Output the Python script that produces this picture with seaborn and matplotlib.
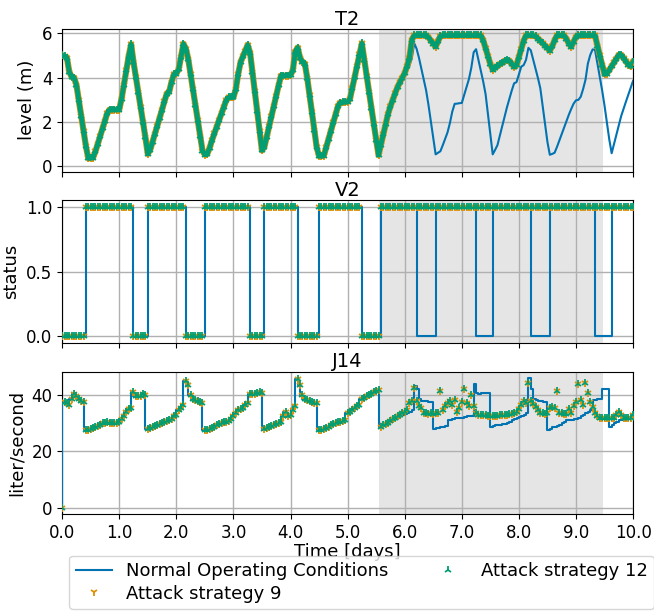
import numpy as np
import pandas as pd
import matplotlib
matplotlib.use('Agg')
import matplotlib.pyplot as plt
import seaborn as sns

plt.rcParams['font.family'] = ['DejaVu Sans']
plt.rcParams['font.size'] = 13

# hourly samples over 10 days
hours = np.arange(241)
attack_start = 133          # first hour where the attack series are given separately
attack_window = (5.55, 9.48)  # shaded period, days

# T2 tank level (m), normal operation
t2_normal = [
    5.0, 4.95, 4.9, 4.26, 4.03, 4.0, 3.67, 2.97, 2.28, 1.59, 0.9, 0.35,
    0.36, 0.38, 0.66, 1.01, 1.35, 1.7, 2.05, 2.4, 2.55, 2.55, 2.55, 2.55,
    2.55, 3.05, 3.68, 4.33, 4.98, 5.5, 4.7, 4.02, 3.33, 2.65, 1.98, 1.3,
    0.55, 0.73, 1.09, 1.46, 1.82, 2.18, 2.55, 2.92, 3.27, 3.36, 3.8, 4.15,
    4.18, 4.37, 4.94, 5.52, 5.31, 4.84, 4.15, 3.46, 2.77, 2.08, 1.38, 0.7,
    0.52, 0.55, 0.82, 1.17, 1.48, 1.78, 2.08, 2.39, 2.69, 2.98, 3.1, 3.1,
    3.1, 3.47, 4.15, 4.69, 4.95, 5.21, 5.47, 5.12, 4.25, 3.37, 2.48, 1.6,
    0.71, 0.86, 1.32, 1.79, 2.25, 2.72, 3.18, 3.65, 4.08, 4.08, 4.09, 4.09,
    4.1, 4.34, 5.17, 5.35, 4.9, 4.7, 4.63, 4.0, 3.2, 2.43, 1.64, 0.85,
    0.45, 0.45, 0.47, 0.85, 1.23, 1.6, 1.97, 2.35, 2.72, 2.87, 2.88, 2.89,
    2.9, 3.04, 3.54, 4.04, 4.54, 5.04, 5.54, 4.81, 4.09, 3.36, 2.64, 1.91,
    1.2, 0.5, 0.94, 1.37, 1.8, 2.22, 2.57, 2.88, 3.19, 3.5, 3.74, 3.97,
    4.19, 4.36, 4.53, 4.88, 5.55, 5.3, 4.89, 4.4, 3.91, 3.42, 2.76, 2.01,
    1.25, 0.53, 0.6, 0.67, 0.94, 1.23, 1.52, 1.94, 2.46, 2.81, 2.82, 2.84,
    2.85, 3.21, 3.57, 3.93, 4.44, 5.14, 5.28, 4.79, 4.3, 3.82, 3.25, 2.34,
    1.41, 0.53, 0.73, 0.95, 1.38, 1.8, 2.23, 2.66, 3.03, 3.41, 3.74, 3.79,
    4.14, 4.49, 4.56, 4.8, 5.34, 5.23, 4.81, 4.4, 3.98, 3.52, 2.7, 1.9,
    1.09, 0.51, 0.55, 0.6, 0.86, 1.15, 1.45, 1.74, 2.03, 2.32, 2.58, 2.82,
    2.97, 2.99, 3.13, 3.48, 3.9, 4.63, 5.02, 5.27, 5.25, 4.64, 4.03, 3.42,
    2.73, 1.96, 1.2, 0.58, 1.0, 1.42, 1.84, 2.26, 2.59, 2.91, 3.22, 3.54,
    3.85,
]
# T2 under attack, from attack_start on (strategies 9 and 12 coincide)
t2_attack9_tail = [
    0.5, 0.97, 1.43, 1.89, 2.35, 2.7, 3.0, 3.29, 3.57, 3.79, 3.99,
    4.2, 4.51, 4.9, 5.7, 5.9, 5.9, 5.9, 5.9, 5.9, 5.9, 5.81, 5.67,
    5.53, 5.4, 5.64, 5.87, 5.9, 5.9, 5.9, 5.9, 5.9, 5.9, 5.9, 5.9,
    5.9, 5.9, 5.9, 5.9, 5.9, 5.9, 5.9, 5.9, 5.9, 5.68, 5.32, 4.96,
    4.61, 4.36, 4.44, 4.52, 4.6, 4.67, 4.75, 4.78, 4.76, 4.62, 4.48, 4.56,
    4.93, 5.3, 5.66, 5.9, 5.9, 5.9, 5.9, 5.87, 5.76, 5.65, 5.55, 5.44,
    5.33, 5.22, 5.41, 5.68, 5.9, 5.9, 5.9, 5.9, 5.74, 5.53, 5.39, 5.61,
    5.84, 5.9, 5.9, 5.9, 5.9, 5.9, 5.9, 5.9, 5.9, 5.44, 5.0, 4.58,
    4.15, 4.18, 4.34, 4.51, 4.68, 4.85, 5.02, 5.02, 4.88, 4.73, 4.58, 4.5,
    4.7,
]
t2_attack12_tail = list(t2_attack9_tail)

# V2 valve status, one row per day
v2_normal = [
    0, 0, 0, 0, 0, 0, 0, 0, 0, 0, 1, 1, 1, 1, 1, 1, 1, 1, 1, 1, 1, 1, 1, 1,
    1, 1, 1, 1, 1, 1, 0, 0, 0, 0, 0, 0, 1, 1, 1, 1, 1, 1, 1, 1, 1, 1, 1, 1,
    1, 1, 1, 1, 0, 0, 0, 0, 0, 0, 0, 0, 1, 1, 1, 1, 1, 1, 1, 1, 1, 1, 1, 1,
    1, 1, 1, 1, 1, 1, 1, 0, 0, 0, 0, 0, 0, 1, 1, 1, 1, 1, 1, 1, 1, 1, 1, 1,
    1, 1, 1, 0, 0, 0, 0, 0, 0, 0, 0, 0, 1, 1, 1, 1, 1, 1, 1, 1, 1, 1, 1, 1,
    1, 1, 1, 1, 1, 1, 0, 0, 0, 0, 0, 0, 0, 0, 1, 1, 1, 1, 1, 1, 1, 1, 1, 1,
    1, 1, 1, 1, 1, 0, 0, 0, 0, 0, 0, 0, 0, 1, 1, 1, 1, 1, 1, 1, 1, 1, 1, 1,
    1, 1, 1, 1, 1, 1, 0, 0, 0, 0, 0, 0, 0, 1, 1, 1, 1, 1, 1, 1, 1, 1, 1, 1,
    1, 1, 1, 1, 1, 0, 0, 0, 0, 0, 0, 0, 0, 1, 1, 1, 1, 1, 1, 1, 1, 1, 1, 1,
    1, 1, 1, 1, 1, 1, 1, 1, 0, 0, 0, 0, 0, 0, 0, 1, 1, 1, 1, 1, 1, 1, 1, 1,
    1,
]
v2_attack9_tail = [0] + [1] * 107
v2_attack12_tail = list(v2_attack9_tail)

# J14 flow (liter/second)
j14_normal = [
    0, 37.5, 37.0, 36.3, 38.5, 40.5, 39.5, 38.5, 38.0, 37.5, 27.5, 27.6,
    27.8, 28.2, 28.6, 29.0, 29.4, 29.9, 30.2, 30.4, 30.2, 30.0, 30.0, 30.0,
    30.5, 31.5, 32.5, 33.8, 35.0, 35.5, 41.0, 39.8, 39.5, 39.8, 40.5, 40.0,
    28.0, 28.2, 28.5, 28.9, 29.3, 29.8, 30.2, 30.5, 30.9, 31.0, 31.5, 32.5,
    33.0, 34.5, 35.5, 36.5, 45.0, 43.5, 40.0, 38.5, 38.2, 37.8, 37.5, 37.2,
    27.5, 27.7, 28.0, 28.4, 28.8, 29.2, 29.6, 30.0, 30.3, 30.5, 30.8, 31.5,
    32.5, 33.5, 34.5, 35.0, 35.5, 36.5, 37.0, 40.5, 40.2, 40.5, 40.8, 41.0,
    40.6, 28.0, 28.3, 28.6, 29.0, 29.4, 29.8, 30.2, 30.5, 32.5, 34.0, 32.5,
    33.0, 34.5, 36.0, 45.5, 43.5, 40.0, 38.5, 38.2, 38.0, 37.6, 37.3, 37.0,
    27.5, 27.7, 28.0, 28.4, 28.8, 29.2, 29.6, 30.0, 30.3, 30.5, 30.6, 31.0,
    33.5, 34.0, 34.7, 35.2, 36.0, 36.5, 38.5, 39.0, 39.5, 40.0, 40.5, 41.0,
    41.5, 41.9, 28.7, 29.0, 29.4, 29.8, 30.2, 30.6, 31.0, 31.5, 32.0, 32.5,
    33.0, 33.3, 33.6, 34.0, 34.5, 43.0, 42.0, 38.5, 38.0, 37.8, 37.7, 37.6,
    37.5, 28.0, 28.2, 28.4, 28.6, 28.8, 29.0, 31.0, 31.2, 31.5, 31.7, 31.7,
    31.8, 32.0, 32.3, 32.5, 32.5, 32.6, 43.7, 40.7, 40.5, 40.6, 40.7, 40.7,
    40.7, 28.7, 29.0, 29.3, 29.5, 29.5, 29.6, 29.8, 30.0, 30.5, 31.0, 31.5,
    32.0, 32.3, 32.5, 33.0, 33.5, 46.0, 42.0, 38.5, 38.3, 38.0, 37.8, 37.6,
    37.5, 27.5, 28.0, 28.5, 28.7, 29.0, 29.5, 30.0, 30.5, 31.0, 31.1, 31.2,
    31.3, 31.5, 32.0, 32.5, 33.0, 33.5, 34.0, 34.5, 38.3, 38.3, 38.5, 38.5,
    42.0, 42.0, 42.0, 28.7, 29.5, 30.0, 30.5, 31.0, 31.1, 31.2, 31.3, 31.5,
    31.7,
]
j14_attack9_tail = [
    41.9, 28.7, 29.2, 29.7, 30.2, 30.8, 31.4, 32.0, 32.6, 33.0, 33.5,
    33.8, 34.5, 37.0, 38.0, 42.5, 38.0, 36.0, 35.5, 33.5, 33.5, 33.3, 33.5,
    33.4, 33.5, 33.6, 41.3, 34.5, 36.0, 37.0, 38.0, 36.5, 38.3, 34.0, 35.5,
    37.5, 42.0, 37.1, 36.0, 40.0, 36.0, 33.5, 33.0, 32.9, 32.8, 32.8, 32.7,
    32.7, 32.6, 32.6, 32.7, 32.8, 32.9, 33.0, 33.0, 33.2, 33.4, 33.6, 34.0,
    35.0, 36.5, 38.0, 37.0, 44.3, 37.7, 36.8, 35.9, 34.5, 33.5, 33.5, 33.4,
    33.5, 35.5, 35.8, 35.5, 41.3, 33.6, 33.5, 33.4, 33.3, 35.0, 33.5, 36.0,
    37.5, 43.7, 38.3, 36.5, 44.3, 40.7, 37.5, 35.9, 33.5, 32.5, 32.0, 31.8,
    31.7, 31.7, 31.7, 31.8, 32.0, 33.0, 34.0, 33.0, 32.0, 31.8, 31.8, 32.0,
    33.0,
]
j14_attack12_tail = list(j14_attack9_tail)

# (title, ylabel, normal, attack 9, attack 12, drawstyle, thick attack band)
panels = [
    ('T2', 'level (m)', t2_normal, t2_attack9_tail, t2_attack12_tail, None, True),
    ('V2', 'status', v2_normal, v2_attack9_tail, v2_attack12_tail, 'steps-post', False),
    ('J14', 'liter/second', j14_normal, j14_attack9_tail, j14_attack12_tail, 'steps-pre', False),
]

pal = sns.color_palette('colorblind')
c_norm, c_a9, c_a12 = pal[0], pal[1], pal[2]
days = hours / 24

fig, axes = plt.subplots(3, 1, figsize=(6.54, 6.13), dpi=100, sharex=True)
fig.subplots_adjust(left=0.095, right=0.968, top=0.953, bottom=0.161, hspace=0.2)

for ax, (name, ylab, normal, a9_tail, a12_tail, ds, band) in zip(axes, panels):
    a9 = list(normal[:attack_start]) + list(a9_tail)
    a12 = list(normal[:attack_start]) + list(a12_tail)
    df = pd.DataFrame({'days': days, 'normal': normal, 'a9': a9, 'a12': a12})

    ax.axvspan(*attack_window, color='0.5', alpha=0.2, lw=0, zorder=0)
    kw = {} if ds is None else {'drawstyle': ds}
    sns.lineplot(data=df, x='days', y='normal', ax=ax, color=c_norm, lw=1.5,
                 label='Normal Operating Conditions', errorbar=None, zorder=3, **kw)
    if band:
        # dense sampling in the source makes the markers merge into a band
        sns.lineplot(data=df, x='days', y='a9', ax=ax, color=c_a9, lw=4.5,
                     errorbar=None, zorder=4, legend=False)
        sns.lineplot(data=df, x='days', y='a12', ax=ax, color=c_a12, lw=3.5,
                     errorbar=None, zorder=5, legend=False)
    sns.lineplot(data=df, x='days', y='a9', ax=ax, color=c_a9, linestyle='',
                 marker='1', markersize=6, markeredgecolor=c_a9, markeredgewidth=1.3,
                 label='Attack strategy 9', errorbar=None, zorder=4)
    sns.lineplot(data=df, x='days', y='a12', ax=ax, color=c_a12, linestyle='',
                 marker='2', markersize=6, markeredgecolor=c_a12, markeredgewidth=1.3,
                 label='Attack strategy 12', errorbar=None, zorder=5)

    ax.set_title(name, fontsize=14, pad=3)
    ax.set_ylabel(ylab, fontsize=13)
    ax.set_xlabel('')
    ax.grid(True, color='#b0b0b0', lw=1)
    ax.tick_params(labelsize=12)
    ax.get_legend().remove()

axes[0].set_ylim(-0.25, 6.2)
axes[0].set_yticks([0, 2, 4, 6])
axes[1].set_yticks([0.0, 0.5, 1.0])
axes[2].set_yticks([0, 20, 40])
axes[2].set_xlim(0, 10)
axes[2].set_xticks(np.arange(0, 11, 1))
axes[2].set_xticklabels([f'{v:.1f}' for v in np.arange(0, 11, 1)])
axes[2].set_xlabel('Time [days]', fontsize=13, labelpad=1)

handles, labels = axes[0].get_legend_handles_labels()
keep = ['Normal Operating Conditions', 'Attack strategy 9', 'Attack strategy 12']
pairs = [(h, l) for h, l in zip(handles, labels) if l in keep]
fig.legend([p[0] for p in pairs], [p[1] for p in pairs], loc='lower center', ncol=2,
           fontsize=13, bbox_to_anchor=(0.553, -0.008), columnspacing=2.3,
           handlelength=2.0, labelspacing=0.25, borderpad=0.35)

fig.savefig('out.png', dpi=100)
